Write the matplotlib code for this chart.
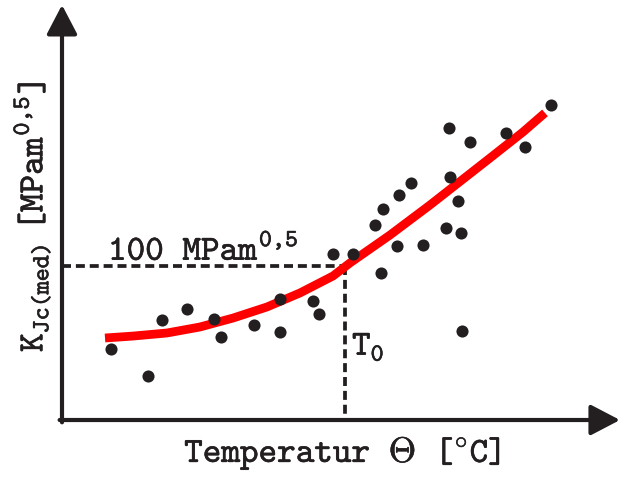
import matplotlib
matplotlib.use("Agg")
import matplotlib.pyplot as plt
from matplotlib.patches import ArrowStyle
import matplotlib.patheffects as pe

plt.rcParams['mathtext.fontset'] = 'custom'
plt.rcParams['mathtext.rm'] = 'cmtt10'
plt.rcParams['mathtext.it'] = 'cmtt10'
plt.rcParams['mathtext.bf'] = 'cmtt10'
plt.rcParams['mathtext.tt'] = 'cmtt10'
plt.rcParams['font.family'] = ['cmtt10', 'DejaVu Sans Mono']

# measured data (temperature in degC, K_Jc in MPa m^0.5)
temp_pts = [-167, -148.5, -141.5, -129, -115.5, -112, -95.5, -82.5, -82.5, -66, -63,
            -56, -46, -32, -35, -31, -23, -17, -24, -11, 0.5, 8, 6.5, 2.5, 2, 12.5,
            30.5, 40, 53, 8.5]
kjc_pts = [46.1, 28.6, 64.9, 72.1, 65.6, 53.9, 61.7, 78.6, 57.1, 77.3, 68.8,
           107.8, 107.8, 95.5, 126.6, 137.0, 146.1, 153.9, 113.0, 113.6, 124.7, 121.4,
           142.2, 157.8, 189.6, 180.5, 186.4, 177.3, 204.5, 57.8]

# master curve
curve_t = [-170, -156, -139, -122.5, -106, -89, -72.5, -56, -47.5, -27.5, -7.5, 22.5, 39, 50]
curve_k = [53.25, 54.5, 56.5, 60.4, 66.2, 73.4, 82.5, 93.5, 102.0, 120.1, 139.6, 170.1, 187.0, 199.4]

T0 = -50
K_ref = 100

x_min, x_max = -222.5, 89.0
y_min, y_max = -38.3, 272.7
axis_x = -191.5
x_tip = 87.5
y_tip = 269.5

dark = '#231f20'
fs = 25.5
bold = [pe.withStroke(linewidth=0.4, foreground=dark)]

fig = plt.figure(figsize=(6.23, 4.79), dpi=100)
ax = fig.add_axes([0, 0, 1, 1])
ax.set_xlim(x_min, x_max)
ax.set_ylim(y_min, y_max)
ax.axis('off')

# axes with arrows
style = ArrowStyle('-|>', head_length=0.9, head_width=0.47)
ax.annotate('', xy=(x_tip, 0), xytext=(axis_x - 1.2, 0),
            arrowprops=dict(arrowstyle=style, lw=3, color=dark, mutation_scale=20,
                            shrinkA=0, shrinkB=0))
ax.annotate('', xy=(axis_x, y_tip), xytext=(axis_x, -1.5),
            arrowprops=dict(arrowstyle=style, lw=3, color=dark, mutation_scale=20,
                            shrinkA=0, shrinkB=0))

# dashed reference lines
ax.plot([axis_x, T0], [K_ref, K_ref], color=dark, lw=2.7, dashes=[2.4, 1.3])
ax.plot([T0, T0], [K_ref, 0], color=dark, lw=2.7, dashes=[2.4, 1.3])

# master curve
ax.plot(curve_t, curve_k, color='#ff0000', lw=6.3, solid_capstyle='butt',
        solid_joinstyle='round', zorder=3)

# data points
ax.scatter(temp_pts, kjc_pts, s=76, color=dark, zorder=4, linewidths=0)

# labels
ax.text(-168.5, 104, r'$100\quad MPam^{0{,}5}$', fontsize=fs, color=dark,
        ha='left', va='baseline', path_effects=bold)
ax.text(-46.5, 42.2, r'$T_0$', fontsize=fs, color=dark, ha='left', va='baseline',
        path_effects=bold)
ax.text(-51.25, -27.3, r'$Temperatur\quad \Theta\quad [^{\circ}C]$', fontsize=fs, color=dark,
        ha='center', va='baseline', path_effects=bold)
ax.text(-206.5, 132, r'$K_{Jc(med)}\enspace [MPam^{0{,}5}]$', fontsize=fs, color=dark,
        ha='center', va='center', rotation=90, path_effects=bold)

fig.savefig('out.png', dpi=100)
